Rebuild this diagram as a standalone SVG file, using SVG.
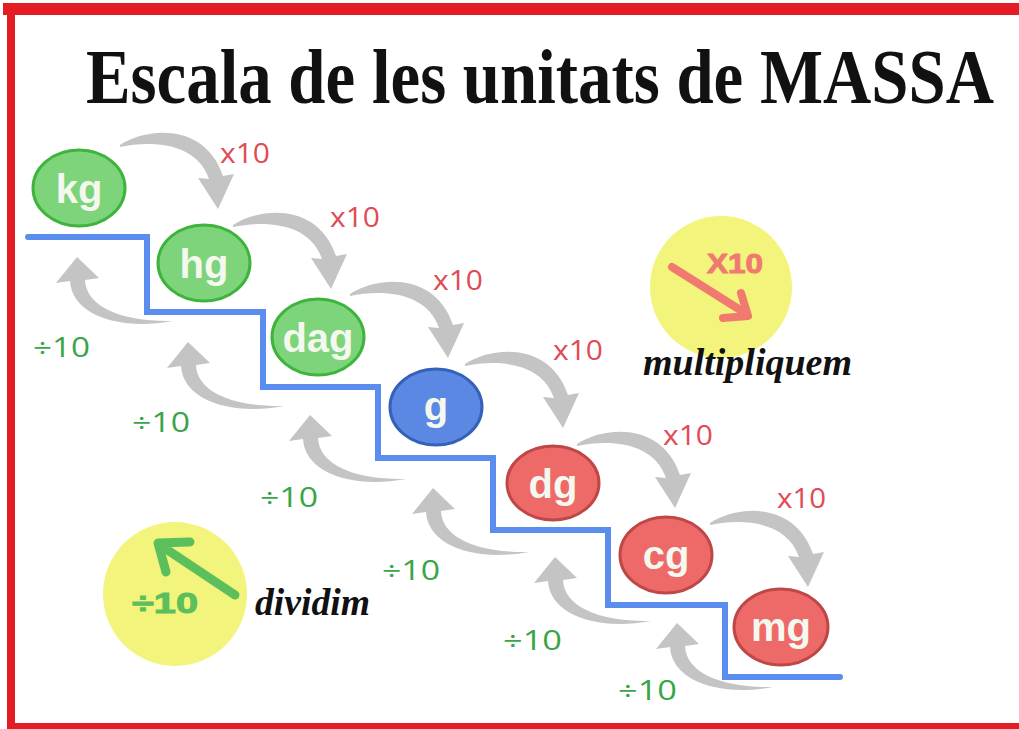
<svg xmlns="http://www.w3.org/2000/svg" width="1019" height="729" viewBox="0 0 1019 729">
<defs>
<style>
.node-text{font-family:"Liberation Sans",Arial,sans-serif;font-weight:bold;font-size:40px;fill:#f4f8ee;text-anchor:middle}
.green{fill:#7dd47b;stroke:#3fb43d;stroke-width:3}
.blue{fill:#5b88e2;stroke:#3462b8;stroke-width:3}
.red{fill:#ee6a69;stroke:#bf4747;stroke-width:3}
.mul{font-family:"Open Sans","Liberation Sans",sans-serif;font-size:27px;fill:#e04b55}
.div{font-family:"Open Sans","Liberation Sans",sans-serif;font-size:27px;fill:#3aa548}
.script{font-family:"Liberation Serif","DejaVu Serif",serif;font-weight:bold;font-style:italic;fill:#111}
.arrow{fill:#c4c4c4}
</style>
<path id="fwd" d="M0,0 C28,-18 85,-22 103,31 L114,29 L98,64 L78,33 L89,34 C77,-1 35,-5 0,2 Z"/>
<path id="bwd" d="M0,0 L22,21 L8,23 C9,50 45,65 96,64 C42,74 -5,58 -7,24 L-21,26 Z"/>
</defs>
<rect x="0" y="0" width="1019" height="729" fill="#ffffff"/>
<g id="border" fill="#e41c24">
<rect x="3" y="3" width="1016" height="12"/>
<rect x="7" y="3" width="8" height="726"/>
<rect x="7" y="723" width="1012" height="6"/>
</g>
<text id="title" transform="translate(86,103) scale(0.857,1)" x="0" y="0" font-family="Liberation Serif,DejaVu Serif,serif" font-weight="bold" font-size="78" fill="#111">Escala de les unitats de MASSA</text>
<g id="stairs">
<path d="M28,237 H147 V312 H263 V387 H378 V458 H493 V530 H608 V605 H725 V677 H840" fill="none" stroke="#5b8def" stroke-width="6" stroke-linecap="round"/>
</g>
<g id="connectors" class="arrow">
<use href="#fwd" transform="translate(120,145)"/>
<use href="#fwd" transform="translate(233,225)"/>
<use href="#fwd" transform="translate(350,294)"/>
<use href="#fwd" transform="translate(465,364)"/>
<use href="#fwd" transform="translate(577,444)"/>
<use href="#fwd" transform="translate(710,523)"/>
<use href="#bwd" transform="translate(77,257)"/>
<use href="#bwd" transform="translate(188,342)"/>
<use href="#bwd" transform="translate(310,415)"/>
<use href="#bwd" transform="translate(433,488)"/>
<use href="#bwd" transform="translate(555,557)"/>
<use href="#bwd" transform="translate(677,623)"/>
</g>
<g id="node-kg"><ellipse class="green" cx="79" cy="188" rx="46" ry="38"/><text class="node-text" x="79" y="203">kg</text></g>
<g id="node-hg"><ellipse class="green" cx="204" cy="263" rx="46" ry="38"/><text class="node-text" x="204" y="278">hg</text></g>
<g id="node-dag"><ellipse class="green" cx="318" cy="337" rx="46" ry="38"/><text class="node-text" x="318" y="352">dag</text></g>
<g id="node-g"><ellipse class="blue" cx="436" cy="407" rx="46" ry="38"/><text class="node-text" x="436" y="420">g</text></g>
<g id="node-dg"><ellipse class="red" cx="553" cy="483" rx="46" ry="37"/><text class="node-text" x="553" y="498">dg</text></g>
<g id="node-cg"><ellipse class="red" cx="666" cy="555" rx="46" ry="38"/><text class="node-text" x="666" y="569">cg</text></g>
<g id="node-mg"><ellipse class="red" cx="781" cy="627" rx="47" ry="38"/><text class="node-text" x="781" y="641">mg</text></g>
<g id="labels-mul">
<text class="mul" x="220" y="163" textLength="50" lengthAdjust="spacingAndGlyphs">x10</text>
<text class="mul" x="330" y="227" textLength="50" lengthAdjust="spacingAndGlyphs">x10</text>
<text class="mul" x="433" y="290" textLength="50" lengthAdjust="spacingAndGlyphs">x10</text>
<text class="mul" x="553" y="360" textLength="50" lengthAdjust="spacingAndGlyphs">x10</text>
<text class="mul" x="663" y="445" textLength="50" lengthAdjust="spacingAndGlyphs">x10</text>
<text class="mul" x="777" y="508" textLength="49" lengthAdjust="spacingAndGlyphs">x10</text>
</g>
<g id="labels-div">
<text class="div" x="33" y="357" textLength="57" lengthAdjust="spacingAndGlyphs">÷10</text>
<text class="div" x="132" y="432" textLength="58" lengthAdjust="spacingAndGlyphs">÷10</text>
<text class="div" x="260" y="507" textLength="58" lengthAdjust="spacingAndGlyphs">÷10</text>
<text class="div" x="382" y="580" textLength="58" lengthAdjust="spacingAndGlyphs">÷10</text>
<text class="div" x="503" y="650" textLength="59" lengthAdjust="spacingAndGlyphs">÷10</text>
<text class="div" x="618" y="700" textLength="59" lengthAdjust="spacingAndGlyphs">÷10</text>
</g>
<g id="legend-multiply">
<circle cx="721" cy="287" r="71" fill="#f3f47c"/>
<text x="707" y="273" font-family="Liberation Sans,Arial,sans-serif" font-weight="900" font-size="28" fill="#f07a70" stroke="#f07a70" stroke-width="1" textLength="56" lengthAdjust="spacingAndGlyphs">X10</text>
<path d="M672,267 L745,313 M741,293 L748,316 L723,318" fill="none" stroke="#f07a70" stroke-width="8" stroke-linecap="round" stroke-linejoin="round"/>
<text class="script" x="643" y="375" font-size="38" textLength="209" lengthAdjust="spacingAndGlyphs">multipliquem</text>
</g>
<g id="legend-divide">
<circle cx="175" cy="594" r="72" fill="#f3f47c"/>
<path d="M235,595 L160,545 M190,542 L158,543 L166,572" fill="none" stroke="#5cbf5c" stroke-width="9" stroke-linecap="round" stroke-linejoin="round"/>
<text x="132" y="613" font-family="Liberation Sans,Arial,sans-serif" font-weight="900" font-size="29" fill="#5cbf5c" stroke="#5cbf5c" stroke-width="1" textLength="66" lengthAdjust="spacingAndGlyphs">÷10</text>
<text class="script" x="255" y="615" font-size="38" textLength="115" lengthAdjust="spacingAndGlyphs">dividim</text>
</g>
</svg>
